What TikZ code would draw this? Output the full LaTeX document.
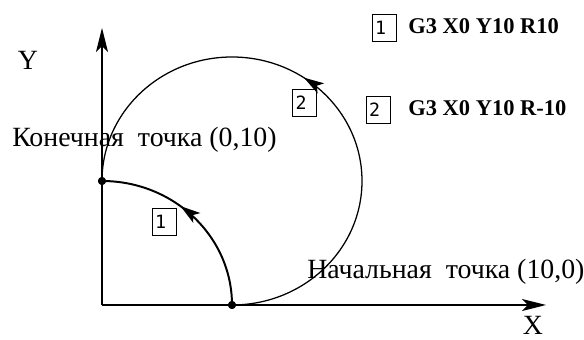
\documentclass[tikz,border=0pt]{standalone}
\usepackage{fontspec}
\setmainfont{Liberation Serif}
\newfontfamily\boxfont{DejaVu Sans Mono}
\usetikzlibrary{arrows.meta,decorations.markings}

\begin{document}
\begin{tikzpicture}[x=0.025cm,y=0.025cm,
    axisline/.style={line width=0.9pt,-{Stealth[length=0.6cm,width=0.3cm,inset=0.15cm]}},
    numbox/.style={draw,line width=0.6pt,font=\boxfont\fontsize{13}{13}\selectfont,
      text width=0.44cm,align=left,inner xsep=0.08cm,minimum height=0.68cm},
    txt/.style={inner sep=0pt,font=\fontsize{19.8}{22}\selectfont},
    gcode/.style={inner sep=0pt,anchor=base west,font=\fontsize{16}{18}\selectfont\bfseries},
    ptdot/.style={fill,circle,inner sep=0pt,minimum size=0.2cm},
    arcmark/.style={postaction=decorate,decoration={markings,
      mark=at position #1 with {\arrow{Stealth[length=0.5cm,width=0.3cm,inset=0.12cm]}}}}]
    \useasboundingbox (0,0) rectangle (584,340);
    % axes
    \coordinate (O) at (102,35);
    \coordinate (Xend) at (546,35);
    \coordinate (Yend) at (102,312);
    \draw[axisline] (O) -- (Xend);
    \draw[axisline] (O) -- (Yend);
    \node[txt,anchor=base] (ylbl) at (28,270) {Y};
    \node[txt,anchor=base] (xlbl) at (533,5) {X};
    % start and end points
    \node[ptdot] (start) at (232,35) {};
    \node[ptdot] (end) at (102,159) {};
    % arc 1 (R10) and arc 2 (R-10)
    \draw[line width=1.4pt,arcmark=0.58] (start.center) arc[start angle=0,end angle=90,x radius=130,y radius=124];
    \draw[line width=0.9pt,arcmark=0.54] (start.center) arc[start angle=-90,end angle=180,x radius=130,y radius=124];
    \node[ptdot] at (start) {};
    \node[ptdot] at (end) {};
    \node[txt,anchor=base west] (endlbl) at (12,193) {Конечная\ \ точка (0,10)};
    \node[txt,anchor=base west] (startlbl) at (307,61) {Начальная\ \ точка (10,0)};
    \node[numbox] (arc1) at (164,118) {1};
    \node[numbox] (arc2) at (304.5,237) {2};
    % legend
    \node[numbox] (leg1) at (384,312) {1};
    \node[gcode] (cmd1) at (408,306) {G3 X0 Y10 R10};
    \node[numbox] (leg2) at (378,230) {2};
    \node[gcode] (cmd2) at (408,224) {G3 X0 Y10 R-10};
\end{tikzpicture}
\end{document}
